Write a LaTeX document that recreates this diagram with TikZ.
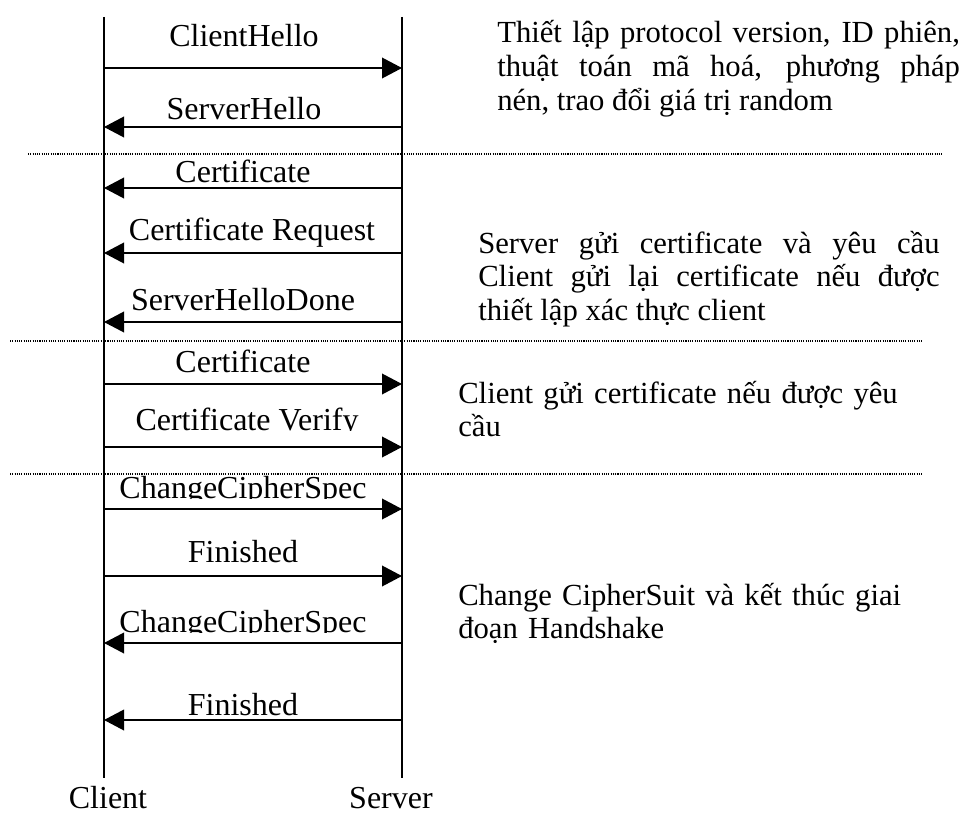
\documentclass[tikz,border=0pt]{standalone}
\usepackage{fontspec}
\setmainfont{Liberation Serif}
\usetikzlibrary{arrows.meta}
\tikzset{
  lifeline/.style={line width=1.5pt},
  msg/.style={line width=1.1pt,-{Triangle[length=15pt,width=15.5pt]}},
  phase/.style={line width=0.8pt,dash pattern=on 0.8pt off 0.9pt},
  lbl/.style={anchor=base,inner sep=0pt,font=\fontsize{24}{25}\selectfont},
  note/.style={anchor=base west,inner sep=0pt,font=\fontsize{23}{25.2}\selectfont},
}
\begin{document}
\begin{tikzpicture}[x=0.75pt,y=-0.75pt]
\useasboundingbox (0,0) rectangle (966,813);
\pgfmathsetmacro{\kc}{104}
\pgfmathsetmacro{\ks}{402}
\coordinate(ctop) at (\kc,17);\coordinate(cbot) at (\kc,778);
\coordinate(stop) at (\ks,17);\coordinate(sbot) at (\ks,778);
\draw[lifeline](ctop)--(cbot);
\draw[lifeline](stop)--(sbot);
\node[lbl](client) at (108,808){Client};
\node[lbl](server) at (391,808){Server};
% client -> server
\foreach \y in {68,384,447,509,576}{\coordinate(c\y) at (\kc,\y);\coordinate(s\y) at (\ks,\y);\draw[msg](c\y)--(s\y);}
% server -> client
\foreach \y in {127,188,253,322,643,720}{\coordinate(c\y) at (\kc,\y);\coordinate(s\y) at (\ks,\y);\draw[msg](s\y)--(c\y);}
\foreach \kx/\ky/\lb in {244/47/ClientHello,244/120/ServerHello,243/182/Certificate,252/240/Certificate Request,243/310/ServerHelloDone,243/372/Certificate,243/562/Finished,243/715/Finished}{\node[lbl](m\ky) at (\kx,\ky){\lb};}
% labels cut at the bottom
\foreach \kx/\ky/\lb in {247/430/Certificate Verify,243/498/ChangeCipherSpec,243/632/ChangeCipherSpec}{\begin{scope}\clip(\kc,\ky-40)rectangle(\ks,\ky);\node[lbl](m\ky) at (\kx,\ky){\lb};\end{scope}}
\foreach \kxa/\kxb/\ky in {28/942/154,10/923/341,10/923/474}{\draw[phase](\kxa,\ky)--(\kxb,\ky);}
\node[note,text width=347pt,align=justify](hello) at (497,43){Thiết lập protocol version, ID phiên,\linebreak thuật toán mã hoá, phương pháp\linebreak nén, trao đổi giá trị random};
\node[note,text width=346pt,align=justify](srvcert) at (478,253){Server gửi certificate và yêu cầu\linebreak Client gửi lại certificate nếu được\linebreak thiết lập xác thực client};
\node[note,text width=360pt,align=left](clicert) at (458,403){Client gửi certificate nếu được yêu\\cầu};
\node[note,text width=360pt,align=left](finish) at (458,605){Change CipherSuit và kết thúc giai\\đoạn Handshake};
\end{tikzpicture}
\end{document}
